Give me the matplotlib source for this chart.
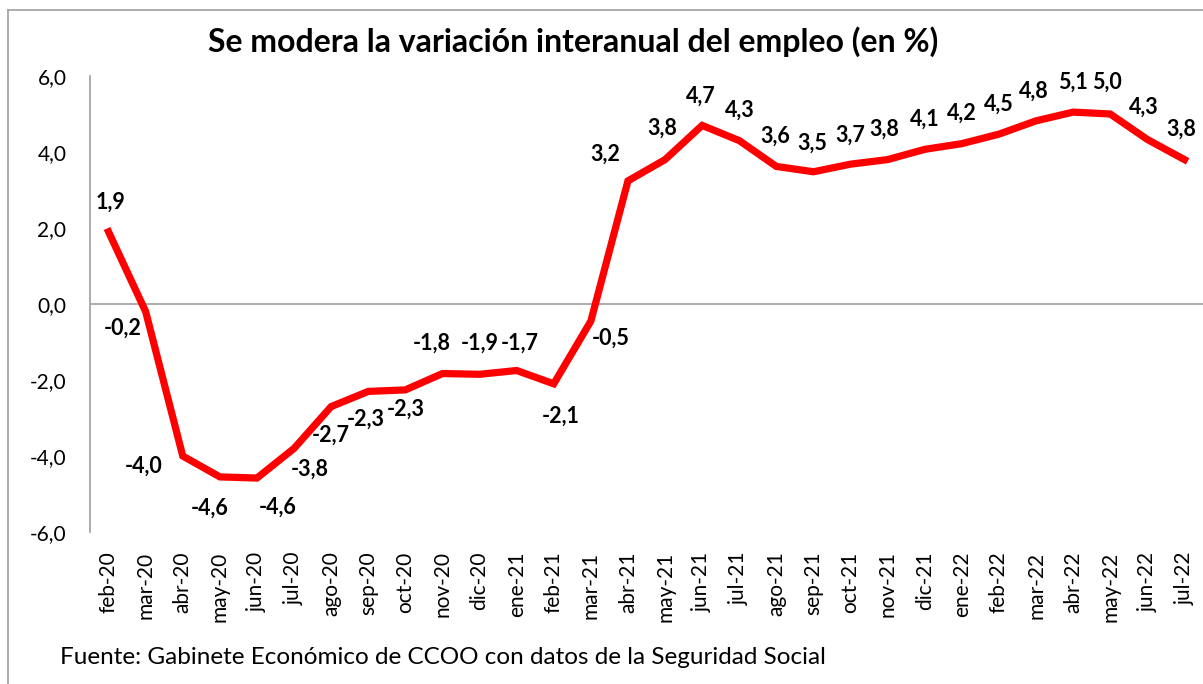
import numpy as np
import matplotlib.pyplot as plt
from matplotlib.lines import Line2D

plt.rcParams['font.family'] = ['Lato', 'DejaVu Sans']

# datos: variación interanual del empleo (%)
meses = ["feb-20", "mar-20", "abr-20", "may-20", "jun-20", "jul-20", "ago-20", "sep-20",
         "oct-20", "nov-20", "dic-20", "ene-21", "feb-21", "mar-21", "abr-21", "may-21",
         "jun-21", "jul-21", "ago-21", "sep-21", "oct-21", "nov-21", "dic-21", "ene-22",
         "feb-22", "mar-22", "abr-22", "may-22", "jun-22", "jul-22"]
variacion = [1.9, -0.2, -4.0, -4.55, -4.58, -3.8, -2.7, -2.3,
             -2.26, -1.83, -1.85, -1.75, -2.1, -0.45, 3.24, 3.8,
             4.7, 4.3, 3.62, 3.48, 3.68, 3.8, 4.07, 4.22,
             4.47, 4.82, 5.05, 5.0, 4.33, 3.8]
etiquetas = ["1,9", "-0,2", "-4,0", "-4,6", "-4,6", "-3,8", "-2,7", "-2,3",
             "-2,3", "-1,8", "-1,9", "-1,7", "-2,1", "-0,5", "3,2", "3,8",
             "4,7", "4,3", "3,6", "3,5", "3,7", "3,8", "4,1", "4,2",
             "4,5", "4,8", "5,1", "5,0", "4,3", "3,8"]

# desplazamiento de cada etiqueta (pixeles)
desp = [(2, 30), (-23, -17), (-39, -10), (-10, -31), (21, -29), (16, -21), (0, -29), (-3, -28),
        (0, -19), (-11, 30), (0, 31), (3, 27), (7, -32), (20, -17), (-23, 27), (-3, 31),
        (-1, 29), (1, 30), (-1, 30), (-1, 29), (0, 29), (-3, 30), (0, 30), (0, 30),
        (0, 30), (-2, 30), (0, 30), (-3, 32), (-4, 32), (-3, 30)]

fig = plt.figure(figsize=(12.03, 6.84), dpi=100)
ax = fig.add_axes([90 / 1203, 1 - 532 / 684, 1113 / 1203, 456 / 684])

x = np.arange(len(meses))
ax.plot(x, variacion, color="#ff0000", lw=5.2, solid_joinstyle="miter", zorder=3)

for i, (v, t) in enumerate(zip(variacion, etiquetas)):
    ax.annotate(t, (i, v), xytext=desp[i], textcoords="offset pixels",
                ha="center", va="center", fontsize=15.5, fontweight="bold")

ax.axhline(0, color="#a6a6a6", lw=1.3, zorder=1)
ax.set_xlim(-0.5, len(meses) - 0.5)
ax.set_ylim(-6, 6)
ax.set_yticks(np.arange(-6, 7, 2))
ax.set_yticklabels([f"{v:.1f}".replace(".", ",") for v in np.arange(-6, 7, 2)], fontsize=15)
ax.set_xticks(x)
ax.set_xticklabels(meses, rotation=90, fontsize=15, va="top")
ax.tick_params(length=0, pad=17)
ax.tick_params(axis="x", pad=14)
for s in ["top", "right", "bottom"]:
    ax.spines[s].set_visible(False)
ax.spines["left"].set_color("#a6a6a6")
ax.spines["left"].set_linewidth(1.3)

fig.text(573 / 1203, 1 - 42 / 684, "Se modera la variación interanual del empleo (en %)",
         ha="center", va="center", fontsize=23, fontweight="bold")
fig.text(60 / 1203, 1 - 657 / 684, "Fuente: Gabinete Económico de CCOO con datos de la Seguridad Social",
         ha="left", va="center", fontsize=17.5)

# marco del gráfico
fig.add_artist(Line2D([8 / 1203, 8 / 1203], [0, 1 - 10 / 684], color="#a6a6a6", lw=1.3))
fig.add_artist(Line2D([8 / 1203, 1], [1 - 10 / 684, 1 - 10 / 684], color="#a6a6a6", lw=1.3))

fig.savefig("out.png", dpi=100)
